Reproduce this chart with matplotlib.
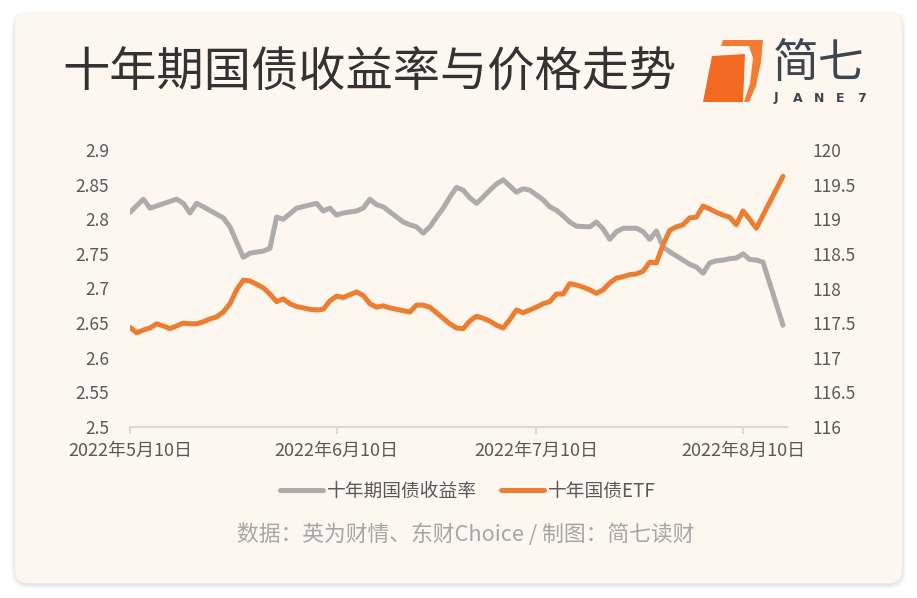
import matplotlib
matplotlib.use("Agg")
import matplotlib.pyplot as plt
from matplotlib.patches import FancyBboxPatch, Polygon
from matplotlib.lines import Line2D
import datetime as dt

plt.rcParams['font.family'] = ['Noto Sans CJK SC', 'DejaVu Sans']

# 数据 (从图上读取, 日期为相对2022-05-10的天数)
start = dt.date(2022, 5, 10)

yield_days = [0, 2, 3, 7, 8, 9, 10, 11, 14, 15, 16, 17, 18, 20, 21, 22, 23, 24, 25, 28,
              29, 30, 31, 32, 34, 35, 36, 37, 38, 41, 42, 43, 44, 45, 46, 47, 48, 49, 50, 51,
              52, 53, 54, 55, 56, 58, 59, 60, 61, 62, 63, 64, 65, 66, 67, 69, 70, 71, 72, 73,
              74, 76, 77, 78, 79, 80, 81, 83, 84, 85, 86, 87, 88, 89, 90, 91, 92, 93, 94, 95, 98]
yield_vals = [2.810, 2.829, 2.816, 2.829, 2.823, 2.809, 2.823, 2.818, 2.802, 2.789,
              2.767, 2.745, 2.751, 2.754, 2.758, 2.803, 2.800, 2.808, 2.816, 2.823,
              2.812, 2.816, 2.806, 2.809, 2.812, 2.816, 2.829, 2.821, 2.818, 2.796,
              2.792, 2.789, 2.780, 2.789, 2.803, 2.816, 2.832, 2.846, 2.842, 2.831,
              2.823, 2.832, 2.842, 2.851, 2.857, 2.839, 2.844, 2.842, 2.835, 2.828,
              2.818, 2.813, 2.805, 2.796, 2.790, 2.789, 2.796, 2.786, 2.771, 2.782,
              2.787, 2.787, 2.782, 2.771, 2.783, 2.760, 2.753, 2.741, 2.735, 2.731,
              2.722, 2.737, 2.740, 2.741, 2.743, 2.744, 2.750, 2.742, 2.741, 2.738, 2.647]

etf_days = list(range(0, 95)) + [98]
etf_vals = [117.44, 117.36, 117.40, 117.43, 117.49, 117.46, 117.42, 117.46, 117.50, 117.49,
            117.49, 117.52, 117.56, 117.59, 117.66, 117.78, 117.98, 118.12, 118.11, 118.06,
            118.01, 117.92, 117.81, 117.85, 117.78, 117.74, 117.72, 117.70, 117.69, 117.70,
            117.82, 117.89, 117.87, 117.91, 117.95, 117.90, 117.78, 117.73, 117.75, 117.72,
            117.70, 117.68, 117.66, 117.76, 117.76, 117.73, 117.65, 117.57, 117.49, 117.43,
            117.42, 117.53, 117.60, 117.57, 117.53, 117.47, 117.43, 117.55, 117.69, 117.65,
            117.69, 117.73, 117.78, 117.81, 117.92, 117.92, 118.07, 118.05, 118.02, 117.98,
            117.93, 117.98, 118.08, 118.15, 118.17, 118.20, 118.21, 118.25, 118.38, 118.37,
            118.63, 118.84, 118.89, 118.92, 119.02, 119.03, 119.19, 119.15, 119.10, 119.06,
            119.03, 118.92, 119.12, 119.00, 118.87, 119.62]

left_ticks = [2.5, 2.55, 2.6, 2.65, 2.7, 2.75, 2.8, 2.85, 2.9]
left_labels = ['2.5', '2.55', '2.6', '2.65', '2.7', '2.75', '2.8', '2.85', '2.9']
right_ticks = [116, 116.5, 117, 117.5, 118, 118.5, 119, 119.5, 120]
right_labels = ['116', '116.5', '117', '117.5', '118', '118.5', '119', '119.5', '120']
month_ticks = [dt.date(2022, 5, 10), dt.date(2022, 6, 10), dt.date(2022, 7, 10), dt.date(2022, 8, 10)]
month_labels = ['2022年5月10日', '2022年6月10日', '2022年7月10日', '2022年8月10日']

yield_dates = [start + dt.timedelta(days=d) for d in yield_days]
etf_dates = [start + dt.timedelta(days=d) for d in etf_days]

W, H = 917, 598
fig = plt.figure(figsize=(W / 100, H / 100), dpi=100)
fig.patch.set_facecolor('white')

def fx(x):
    return x / W

def fy(y):
    return 1 - y / H

# 卡片阴影和背景
for i, a in enumerate([0.03, 0.04, 0.05, 0.06]):
    g = 5 - i
    fig.patches.append(FancyBboxPatch((fx(15 - g + 1), fy(583 + g + 1)), fx(887 + 2 * g - 2), (570 + 2 * g - 2) / H,
                                      boxstyle="round,pad=0,rounding_size=0.018", transform=fig.transFigure,
                                      facecolor='#808080', edgecolor='none', alpha=a, mutation_aspect=W / H,
                                      zorder=-10))
fig.patches.append(FancyBboxPatch((fx(15), fy(583)), fx(887), 570 / H,
                                  boxstyle="round,pad=0,rounding_size=0.014", transform=fig.transFigure,
                                  facecolor='#fdf7f0', edgecolor='none', mutation_aspect=W / H, zorder=-9))

# 标题
fig.text(fx(62), fy(73), '十年期国债收益率与价格走势', fontsize=34, color='#333333',
         ha='left', va='center')

# 简七 logo
fig.patches.append(Polygon([(fx(723), fy(40)), (fx(763), fy(40)), (fx(761), fy(62)), (fx(756), fy(86)),
                            (fx(749), fy(102)), (fx(744), fy(102)), (fx(750), fy(84)), (fx(753), fy(58)),
                            (fx(749), fy(46)), (fx(721), fy(46))],
                           closed=True, transform=fig.transFigure, facecolor='#f47b30', edgecolor='none'))
fig.patches.append(Polygon([(fx(712), fy(56)), (fx(745), fy(54)), (fx(743), fy(102)), (fx(703), fy(102))],
                           closed=True, transform=fig.transFigure, facecolor='#f26a22', edgecolor='none'))
fig.text(fx(819), fy(64), '简七', fontsize=33, color='#3d4650', ha='center', va='center')
for i, ch in enumerate('JANE7'):
    fig.text(fx(776 + i * 21.5), fy(98), ch, fontsize=9, fontweight='bold', color='#3d4650',
             ha='center', va='center', family='DejaVu Sans')

# 图表
ax = fig.add_axes([fx(130), fy(427), fx(787 - 130), 277 / H])
ax.set_facecolor('none')
ax2 = ax.twinx()

ax.plot(yield_dates, yield_vals, color='#aeabab', linewidth=3.6, solid_capstyle='round',
        solid_joinstyle='round')
ax2.plot(etf_dates, etf_vals, color='#ed7d31', linewidth=3.6, solid_capstyle='round',
         solid_joinstyle='round')

ax.set_xlim(dt.datetime(2022, 5, 10), dt.datetime(2022, 5, 10) + dt.timedelta(days=98.6))
ax.set_ylim(2.5, 2.9)
ax2.set_ylim(116, 120)

ax.set_yticks(left_ticks)
ax.set_yticklabels(left_labels)
ax2.set_yticks(right_ticks)
ax2.set_yticklabels(right_labels)
ax.set_xticks(month_ticks)
ax.set_xticklabels(month_labels)

for a in (ax, ax2):
    for s in a.spines.values():
        s.set_visible(False)
ax.spines['bottom'].set_visible(True)
ax.spines['bottom'].set_color('#d9d9d9')
ax.spines['bottom'].set_linewidth(1.5)

ax.tick_params(axis='x', colors='#d9d9d9', length=5, width=1.5, pad=6, labelsize=13,
               labelcolor='#595959')
ax.tick_params(axis='y', length=0, pad=15, labelsize=12.5, labelcolor='#595959')
ax2.tick_params(axis='y', length=0, pad=18, labelsize=12.5, labelcolor='#595959')

# 图例
handles = [Line2D([], [], color='#aeabab', linewidth=3.6, solid_capstyle='round'),
           Line2D([], [], color='#ed7d31', linewidth=3.6, solid_capstyle='round')]
fig.legend(handles, ['十年期国债收益率', '十年国债ETF'], loc='center',
           bbox_to_anchor=(fx(468), fy(491)), ncol=2, frameon=False, fontsize=13.5,
           handlelength=2.3, handletextpad=0.2, columnspacing=1.3, labelcolor='#595959')

# 数据来源
fig.text(fx(466), fy(535), '数据：英为财情、东财Choice / 制图：简七读财', fontsize=15.7,
         color='#a6a6a6', ha='center', va='center')

fig.savefig('out.png', dpi=100, facecolor=fig.get_facecolor())
